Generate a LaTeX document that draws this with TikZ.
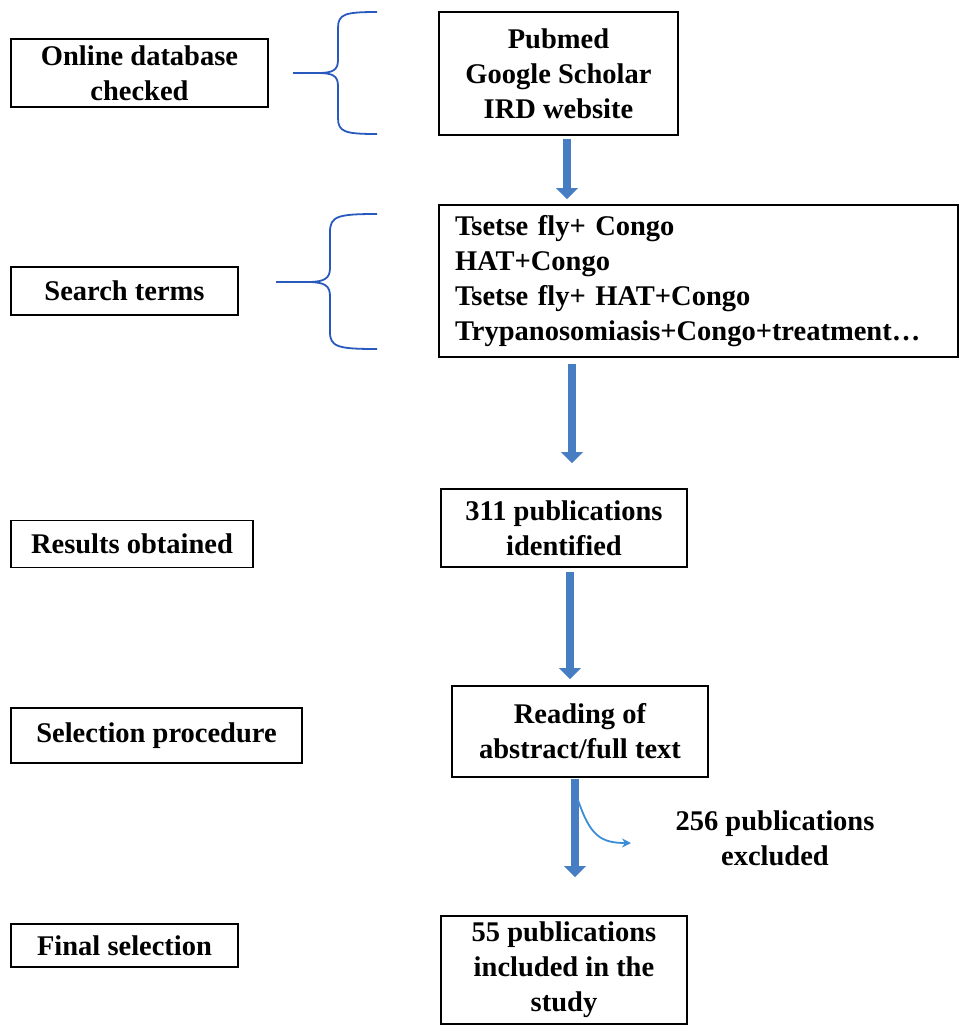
\documentclass[tikz,border=0pt]{standalone}
\usepackage{fontspec}
\setmainfont{Liberation Serif}
\usetikzlibrary{arrows.meta}
\definecolor{arrblue}{RGB}{70,125,195}
\definecolor{brblue}{RGB}{40,90,190}
\definecolor{thinblue}{RGB}{60,140,215}
\begin{document}
\begin{tikzpicture}[x=1pt,y=-1pt,
  box/.style={draw=black,line width=1.6pt,inner sep=0pt,align=center,
    font=\bfseries\fontsize{28.5}{35}\selectfont},
  bigarrow/.style={draw=arrblue,line width=8pt,
    -{Triangle[width=21pt,length=11pt]}},
  brace/.style={draw=brblue,line width=1.8pt},
  thinarrow/.style={draw=thinblue,line width=1.8pt,-{Stealth[width=9pt,length=9pt]}}
]
\useasboundingbox (0,0) rectangle (960,1026);
% left labels
\node[box,minimum width=257pt,minimum height=68pt] (l1) at (139.5,73) {Online database\\checked};
\node[box,minimum width=227pt,minimum height=48pt] (l2) at (124.5,291) {Search terms};
\node[box,minimum width=242pt,minimum height=47pt] (l3) at (132,544) {Results obtained};
\node[box,minimum width=291pt,minimum height=55pt] (l4) at (156.5,735.5) {Selection procedure};
\node[box,minimum width=227pt,minimum height=43pt] (l5) at (124.5,945.5) {Final selection};
% right boxes
\node[box,minimum width=239pt,minimum height=123pt] (r1) at (558.5,73.5) {Pubmed\\Google Scholar\\IRD website};
\node[box,minimum width=519pt,minimum height=152pt,align=left,text width=487pt] (r2) at (698.5,281) {Tsetse fly+ Congo\\HAT+Congo\\Tsetse fly+ HAT+Congo\\Trypanosomiasis+Congo+treatment\ldots};
\node[box,minimum width=246pt,minimum height=78pt] (r3) at (564,528) {311 publications\\identified};
\node[box,minimum width=256pt,minimum height=91pt] (r4) at (580,731.5) {Reading of\\abstract/full text};
\node[box,minimum width=246pt,minimum height=108pt] (r5) at (564,970) {55 publications\\included in the\\study};
\node[font=\bfseries\fontsize{28.5}{35}\selectfont,align=center] (ex) at (775,838) {256 publications\\excluded};
% block arrows
\draw[bigarrow] ([xshift=8.5pt,yshift=-3pt]r1.south) -- ([xshift=8.5pt,yshift=5pt]r1.south |- r2.north);
\draw[bigarrow] ([xshift=8pt,yshift=-6pt]r2.south -| r3.north) -- ([xshift=8pt,yshift=25pt]r3.north);
\draw[bigarrow] ([xshift=6pt,yshift=-4pt]r3.south) -- ([xshift=6pt,yshift=6pt]r3.south |- r4.north);
\draw[bigarrow] ([xshift=-5pt,yshift=-1pt]r4.south) -- ([xshift=-5pt,yshift=38pt]r4.south |- r5.north);
% exclusion arrow
\coordinate (c0) at (578,800);
\coordinate (c1) at (631,843);
\draw[thinarrow] (c0) .. controls (590,835) and (600,843) .. (c1);
% braces
\coordinate (b1) at (293,73);
\draw[brace] (377,12) .. controls (345,12) and (338,14) .. (338,28) -- (338,60)
  .. controls (338,70) and (333,73) .. (318,73) -- (b1);
\draw[brace] (377,134) .. controls (345,134) and (338,132) .. (338,118) -- (338,86)
  .. controls (338,76) and (333,73) .. (318,73);
\coordinate (b2) at (276,282);
\draw[brace] (377,214) .. controls (338,214) and (330,216) .. (330,232) -- (330,268)
  .. controls (330,278) and (325,282) .. (308,282) -- (b2);
\draw[brace] (377,349) .. controls (338,349) and (330,347) .. (330,332) -- (330,296)
  .. controls (330,286) and (325,282) .. (308,282);
\end{tikzpicture}
\end{document}
